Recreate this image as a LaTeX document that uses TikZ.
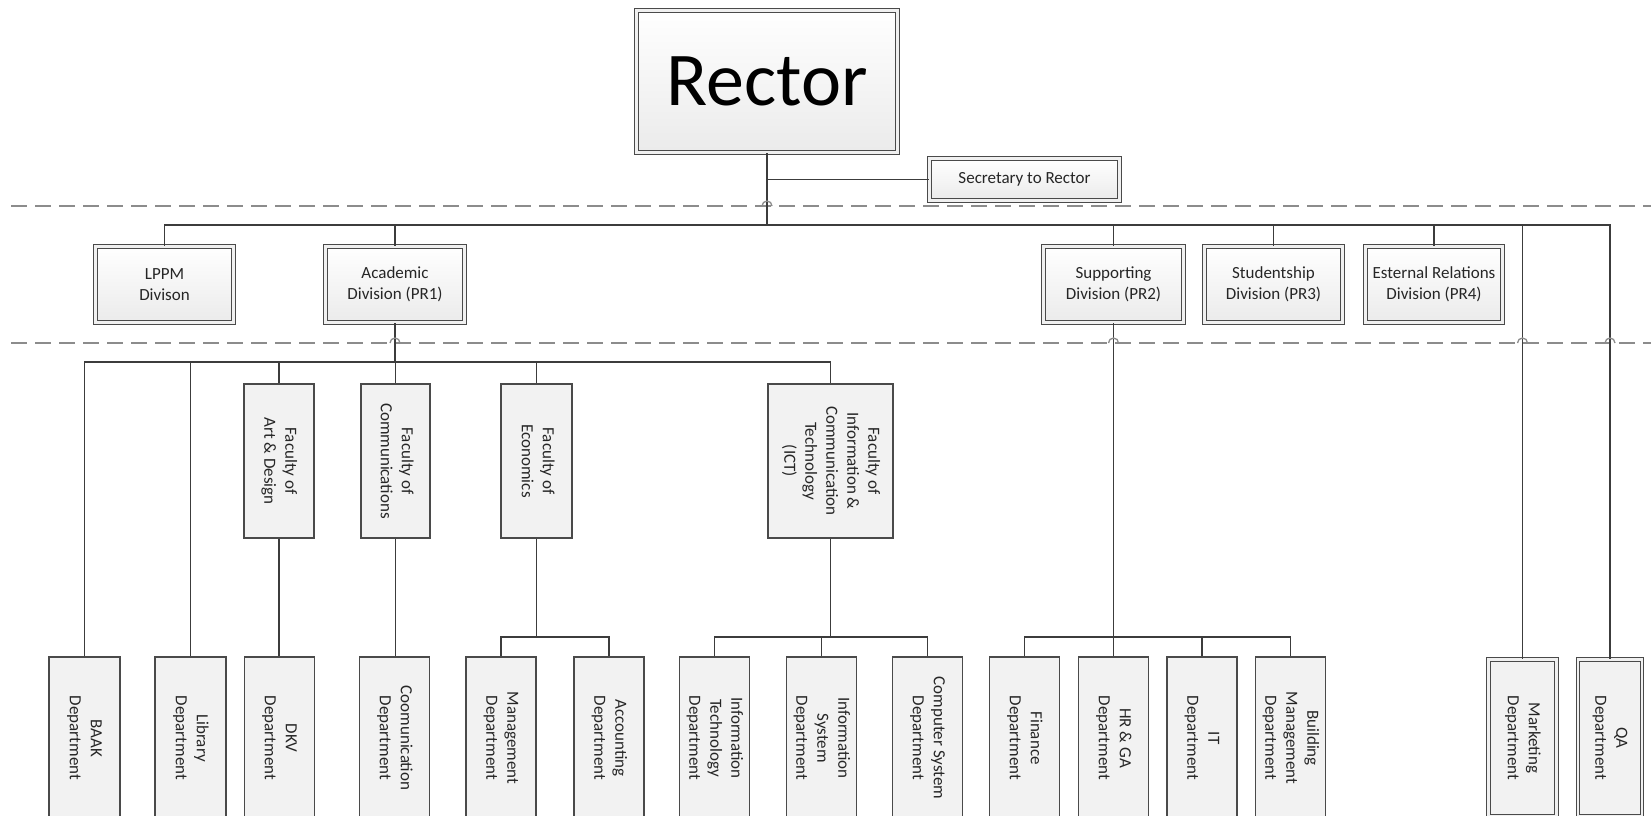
\documentclass[tikz,border=0pt]{standalone}
\usepackage{fontspec}
\setmainfont{Carlito}
\definecolor{boxline}{HTML}{4A4A4A}
\definecolor{connc}{HTML}{3C3C3C}
\definecolor{dashc}{HTML}{8C8C8C}
\newcommand{\vtxt}[1]{\rotatebox{-90}{\begin{tabular}{@{}c@{}}#1\end{tabular}}}
\tikzset{
  base/.style={font=\fontsize{17}{21}\selectfont, text=black!85, inner sep=0pt, align=center},
  dblbox/.style={base, draw=boxline, line width=1.1pt, double=black!6, double distance=2.4pt, top color=white, bottom color=black!8},
  sglbox/.style={base, draw=boxline, line width=1.3pt, fill=black!5},
  conn/.style={draw=connc, line width=1.2pt},
  sep/.style={draw=dashc, line width=2.6pt, dash pattern=on 16pt off 8pt},
  hop/.style={draw=dashc, line width=1.3pt},
}
\begin{document}
\begin{tikzpicture}[x=1pt,y=-1pt]
\path[use as bounding box] (0,0) rectangle (1651,815);
\clip (0,0) rectangle (1651,815);
% separators
\draw[sep] (11,206) -- (1651,206);
\draw[sep] (11,343) -- (1651,343);
% bus levels
\coordinate (b1) at (0,225);
\coordinate (b2) at (0,362);
\coordinate (b3) at (0,637);
% top
\node[dblbox, minimum width=261pt, minimum height=142pt, font=\fontsize{76}{80}\selectfont, text=black] (rector) at (767,81.5) {Rector};
\node[dblbox, minimum width=190pt, minimum height=42pt] (sec) at (1024.5,179.5) {Secretary to Rector};
% divisions
\node[dblbox, minimum width=138pt, minimum height=76pt] (lppm) at (164.5,284.5) {LPPM\\Divison};
\node[dblbox, minimum width=139pt, minimum height=76pt] (acad) at (395,284.5) {Academic\\Division (PR1)};
\node[dblbox, minimum width=140pt, minimum height=76pt] (sup) at (1113.5,284.5) {Supporting\\Division (PR2)};
\node[dblbox, minimum width=138pt, minimum height=76pt] (stu) at (1273.5,284.5) {Studentship\\Division (PR3)};
\node[dblbox, minimum width=137pt, minimum height=76pt] (ext) at (1434,284.5) {Esternal Relations\\Division (PR4)};
% faculties
\node[sglbox, minimum width=70pt, minimum height=154pt] (art) at (279,461) {\vtxt{Faculty of\\Art \& Design}};
\node[sglbox, minimum width=69pt, minimum height=154pt] (fcom) at (395.5,461) {\vtxt{Faculty of\\Communications}};
\node[sglbox, minimum width=71pt, minimum height=154pt] (econ) at (536.5,461) {\vtxt{Faculty of\\Economics}};
\node[sglbox, minimum width=125pt, minimum height=154pt] (ict) at (830.5,461) {\vtxt{Faculty of\\Information \&\\Communication\\Technology\\(ICT)}};
% departments
\node[sglbox, minimum width=71pt, minimum height=162pt] (baak) at (84.5,738) {\vtxt{BAAK\\Department}};
\node[sglbox, minimum width=71pt, minimum height=162pt] (lib) at (190.5,738) {\vtxt{Library\\Department}};
\node[sglbox, minimum width=70pt, minimum height=162pt] (dkv) at (279.5,738) {\vtxt{DKV\\Department}};
\node[sglbox, minimum width=70pt, minimum height=162pt] (dcom) at (394.5,738) {\vtxt{Coomunication\\Department}};
\node[sglbox, minimum width=70pt, minimum height=162pt] (mgmt) at (501,738) {\vtxt{Management\\Department}};
\node[sglbox, minimum width=70pt, minimum height=162pt] (acct) at (609,738) {\vtxt{Accounting\\Department}};
\node[sglbox, minimum width=70pt, minimum height=162pt] (itd) at (714.5,738) {\vtxt{Information\\Technology\\Department}};
\node[sglbox, minimum width=70pt, minimum height=162pt] (isd) at (821.5,738) {\vtxt{Information\\System\\Department}};
\node[sglbox, minimum width=70pt, minimum height=162pt] (csd) at (927.5,738) {\vtxt{Computer System\\Department}};
\node[sglbox, minimum width=70pt, minimum height=162pt] (fin) at (1024.5,738) {\vtxt{Finance\\Department}};
\node[sglbox, minimum width=70pt, minimum height=162pt] (hr) at (1113.5,738) {\vtxt{HR \& GA\\Department}};
\node[sglbox, minimum width=70pt, minimum height=162pt] (itdep) at (1202,738) {\vtxt{IT\\Department}};
\node[sglbox, minimum width=70pt, minimum height=162pt] (bld) at (1290.5,738) {\vtxt{Building\\Management\\Department}};
\node[dblbox, minimum width=68pt, minimum height=157pt, top color=black!5, bottom color=black!5] (mkt) at (1522.5,738) {\vtxt{Marketing\\Department}};
\node[dblbox, minimum width=64pt, minimum height=157pt, top color=black!5, bottom color=black!5] (qa) at (1610,738) {\vtxt{QA\\Department}};
% connectors
\draw[conn] (rector.south) -- (rector.south |- b1);
\draw[conn] (rector.south |- sec.west) -- (sec.west);
\draw[conn] (lppm.north) |- (qa.north |- b1) -- (qa.north);
\foreach \n in {acad,sup,stu,ext,mkt} \draw[conn] (\n.north |- b1) -- (\n.north);
\draw[conn] (acad.south) -- (acad.south |- b2);
\draw[conn] (baak.north) |- (ict.north |- b2) -- (ict.north);
\foreach \n in {lib,art,fcom,econ} \draw[conn] (\n.north |- b2) -- (\n.north);
\draw[conn] (art.south) -- (art.south |- dkv.north);
\draw[conn] (fcom.south) -- (fcom.south |- dcom.north);
\draw[conn] (econ.south) -- (econ.south |- b3);
\draw[conn] (mgmt.north) |- (acct.north |- b3) -- (acct.north);
\draw[conn] (ict.south) -- (ict.south |- b3);
\draw[conn] (itd.north) |- (csd.north |- b3) -- (csd.north);
\draw[conn] (isd.north |- b3) -- (isd.north);
\draw[conn] (sup.south) -- (hr.north);
\draw[conn] (fin.north) |- (bld.north |- b3) -- (bld.north);
\draw[conn] (itdep.north |- b3) -- (itdep.north);
% line hops
\foreach \x/\y in {767/206, 395/343, 1113.5/343, 1522.5/343, 1610/343}
  \draw[hop] ({\x-5},\y) arc[start angle=180, end angle=360, radius=5];
\end{tikzpicture}
\end{document}
